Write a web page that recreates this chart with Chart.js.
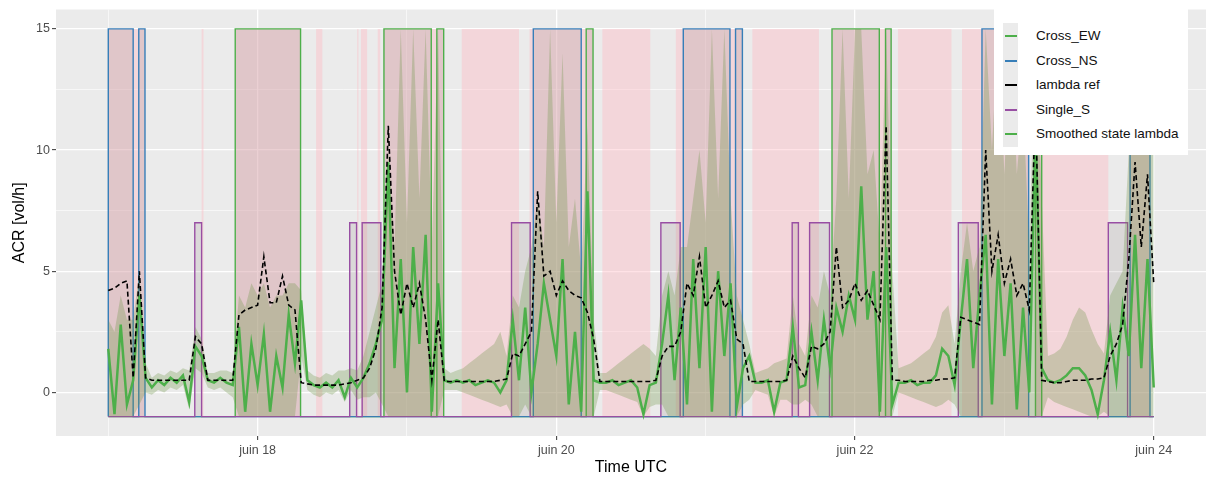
<!DOCTYPE html>
<html lang="fr">
<head>
    <meta charset="UTF-8">
    <title>ACR</title>
    <style>
        body { margin: 0; background: #fff; font-family: "Liberation Sans", Arial, sans-serif; }
        #wrap { position: relative; width: 1206px; height: 477px; }
        #legend { position: absolute; left: 994px; top: 8px; width: 194px; height: 147px; background: #fff; }
        #legend .keys { position: absolute; left: 9px; top: 15px; width: 15px; height: 124px; background: #ebebeb; }
        #legend .item { position: absolute; left: 0; height: 20px; width: 194px; }
        #legend .line { position: absolute; left: 11px; top: 9px; width: 12px; height: 2px; }
        #legend .txt { position: absolute; left: 42px; top: 2px; font-size: 13.5px; color: #111; white-space: nowrap; }
    </style>
</head>
<body>
<div id="wrap">
    <canvas id="acrChart" width="1206" height="477"></canvas>
    <div id="legend"><div class="keys"></div></div>
</div>
<script src="https://cdn.jsdelivr.net/npm/chart.js"></script>
<script>
// hours since 17 June 00:00 UTC
const hours = Array.from({length: 169}, (_, i) => i);

// smoothed state lambda
const smoothed = [
    1.8, -0.9, 2.8, -0.5, 0.5, 4.0, 0.6, 0.2, 0.5, 0.3,
    0.6, 0.4, 0.7, -0.4, 1.9, 1.5, 0.5, 0.4, 0.6, 0.4,
    0.3, 2.7, -0.8, 2.0, 0.3, 2.4, -0.8, 1.5, 0.2, 3.2,
    1.2, 3.8, 0.5, 0.3, 0.2, 0.4, 0.2, 0.5, -0.2, 0.6,
    0.2, 0.6, 1.2, 2.0, 3.0, 9.5, 1.0, 5.5, 0.0, 6.0,
    2.0, 6.5, -0.8, 4.5, 0.5, 0.4, 0.5, 0.4, 0.5, 0.3,
    0.4, 0.5, 0.4, 0.0, 0.5, 3.0, 0.5, 3.5, 0.0, 2.0,
    4.5, 3.0, 1.5, 5.5, -0.5, 2.5, -0.8, 8.3, 0.5, 0.4,
    0.4, 0.5, 0.3, 0.4, 0.5, 0.2, -0.9, 0.3, 0.4, 2.0,
    4.0, 0.5, 3.5, -0.5, 5.5, 1.0, 6.0, -0.8, 5.0, 1.5,
    4.5, -0.6, 1.0, 1.5, 0.4, 0.4, 0.5, -0.8, 0.4, 0.5,
    2.7, 0.2, 0.3, 2.5, 0.5, 3.0, 1.0, 3.5, 2.5, 4.0,
    3.0, 8.5, 3.0, 5.0, -0.8, 6.0, -0.5, 0.4, 0.4, 0.5,
    0.3, 0.4, 0.4, 0.7, 1.8, 1.5, 0.3, 3.0, 5.5, 1.0,
    4.0, 6.5, -0.5, 5.5, 1.5, 4.5, -0.7, 3.5, 0.0, 11.0,
    1.0, 0.5, 0.4, 0.5, 0.7, 1.0, 1.0, 0.7, 0.1, -0.9,
    0.5, 2.5, 0.5, 3.5, 1.5, 6.5, 1.0, 5.5, 0.2
];
// confidence band of the smoothed state
const bandLow = [
    -1, -1, -1, -1, -1, -0.5, 0, -0.1, 0.1, 0,
    0.2, 0.1, 0.3, -0.7, 1.0, 0.8, 0.2, 0.1, 0.2, 0,
    -0.2, -1, -1, -1, -1, -1, -1, -1, -1, -1,
    -1, 1.5, 0.1, -0.1, -0.2, 0, -0.1, 0.1, -0.4, 0.1,
    -0.3, -0.2, -0.2, 0, -0.5, -1, -1, -1, -1, -1,
    -1, -1, -1, -1, 0.1, 0.1, 0.1, 0, -0.1, -0.2,
    -0.3, -0.4, -0.5, -0.6, -0.5, -1, -1, -0.5, -1, -1,
    -1, -1, -1, -1, -1, -1, -1, -1, -1, 0.1,
    0.1, 0, -0.1, -0.2, -0.3, -0.4, -1, -0.6, -0.5, -0.5,
    -1, -1, -1, -1, -1, -1, -1, -1, -1, -1,
    -1, -1, -0.5, -0.3, 0.1, 0, -0.1, -1, -0.3, -0.3,
    -0.5, -0.5, -0.3, -0.5, -1, -1, -1, -1, -1, -1,
    -1, -1, -1, -1, -1, -1, -1, 0, -0.1, -0.2,
    -0.3, -0.4, -0.5, -0.6, -0.5, -0.3, -0.5, -1, -1, -1,
    -1, -1, -1, -1, -1, -1, -1, -1, -1, -1,
    -1, -0.2, -0.4, -0.5, -0.6, -0.7, -0.8, -0.9, -1, -1,
    -0.8, -1, -1, -1, -1, -1, -1, -1, -1
];
const bandHigh = [
    3, 2.5, 4, 3, 3, 5, 1.2, 0.6, 0.8, 0.7,
    0.9, 0.8, 1.0, 0.9, 2.7, 2.2, 0.8, 0.8, 0.9, 0.9,
    0.8, 4, 3.5, 4.5, 4, 4.5, 3.5, 4, 4, 4.5,
    4.5, 4.2, 0.9, 0.7, 0.6, 0.8, 0.7, 0.9, 0.9, 1.0,
    0.9, 1.5, 2.5, 3.5, 4.5, 10, 6, 15, 7, 15,
    8, 15, 6, 15, 1.0, 0.8, 0.9, 1.0, 1.2, 1.4,
    1.6, 1.8, 2.0, 2.5, 1.5, 4.0, 3.5, 5, 6, 8,
    6, 15, 7, 14, 6, 8, 5, 11, 3, 0.8,
    0.8, 1.0, 1.2, 1.4, 1.6, 1.8, 2.0, 1.8, 1.5, 4.0,
    5, 4, 6, 6, 8, 10, 7, 15, 8, 15,
    8, 4, 3, 2.0, 0.8, 0.9, 1.0, 1.2, 1.3, 1.4,
    4, 2, 1.5, 4, 3.5, 5, 4, 8, 15, 8,
    15, 15, 9, 10, 6, 15, 5, 1.0, 1.1, 1.2,
    1.4, 1.6, 1.8, 2.3, 3.3, 3.6, 2.0, 5, 7, 5,
    6, 15, 10, 15, 9, 15, 9, 12, 6, 15,
    8, 1.5, 1.6, 1.8, 2.3, 3.0, 3.5, 3.3, 2.6, 2.0,
    1.6, 4, 4.5, 5, 10, 15, 12, 15, 10
];
// lambda ref
const lambdaRef = [
    4.2, 4.3, 4.5, 4.6, 0.6, 5.0, 0.6, 0.5, 0.5, 0.5,
    0.5, 0.5, 0.5, 0.5, 2.3, 2.0, 0.5, 0.5, 0.5, 0.5,
    0.5, 3.2, 3.4, 3.5, 3.6, 5.6, 3.7, 3.7, 4.8, 3.6,
    3.4, 0.4, 0.35, 0.3, 0.3, 0.3, 0.3, 0.3, 0.35, 0.4,
    0.5, 0.6, 1.0, 1.8, 3.5, 11.0, 5.0, 3.2, 4.5, 3.5,
    4.5, 3.0, 0.5, 3.0, 0.45, 0.45, 0.45, 0.45, 0.45, 0.45,
    0.45, 0.45, 0.45, 0.5, 0.55, 1.6, 1.5, 2.0, 2.5, 8.3,
    4.8, 5.0, 4.0, 4.6, 4.2, 4.0, 3.9, 3.3, 2.2, 0.45,
    0.45, 0.45, 0.45, 0.45, 0.45, 0.45, 0.45, 0.45, 0.5, 1.5,
    1.9, 1.9, 2.5, 4.5, 4.0, 5.6, 3.5, 4.0, 4.6, 3.5,
    3.8, 2.2, 2.0, 0.45, 0.45, 0.45, 0.45, 0.45, 0.45, 0.5,
    1.5, 1.0, 0.6, 1.9, 1.8, 2.0, 2.5, 6.0, 3.5, 3.8,
    4.5, 3.8, 4.2, 3.6, 3.0, 11.0, 0.5, 0.5, 0.45, 0.45,
    0.45, 0.45, 0.5, 0.5, 0.55, 0.55, 0.6, 3.1, 3.0, 2.9,
    2.8, 10.0, 5.0, 6.5, 4.5, 5.5, 4.0, 4.5, 3.4, 12.0,
    0.5, 0.45, 0.4, 0.4, 0.45, 0.5, 0.5, 0.5, 0.55, 0.55,
    0.6, 1.5, 2.0, 2.8, 5.5, 9.5, 6.0, 9.0, 4.5
];

// state periods [start, end] in hours
const crossEW = [[20.4, 30.9], [44.3, 51.9], [52.8, 53.9], [76.8, 77.9], [116.3, 123.9], [124.9, 125.8], [149.0, 150.0]];
const crossNS = [[0, 4.0], [4.9, 5.9], [68.3, 76.0], [92.4, 99.9], [100.8, 101.9], [140.4, 147.9], [164.2, 167.4]];
const singleS = [[13.9, 15.0], [38.8, 39.9], [40.8, 43.8], [64.8, 67.8], [88.8, 91.9], [109.9, 110.9], [112.7, 115.9], [136.6, 139.8], [160.7, 163.8]];
const pinkSpans = [[0, 5.9], [15.0, 15.3], [20.4, 30.9], [33.4, 34.4], [40.0, 40.2], [40.6, 41.6], [43.3, 43.7],
    [44.3, 53.9], [56.8, 66.0], [67.7, 77.9], [79.4, 87.1], [91.2, 102.0], [103.5, 114.2], [116.3, 125.9],
    [126.9, 135.5], [137.2, 147.9], [149.0, 160.7], [164.0, 167.4]];
const stateOff = -1;
const crossOn = 15;
const singleOn = 7;

const xTickValues = [24, 72, 120, 168];
const xTickLabels = ['juin 18', 'juin 20', 'juin 22', 'juin 24'];
const xGrid = [0, 24, 48, 72, 96, 120, 144, 168];
const yTickValues = [0, 5, 10, 15];
const yTickLabels = ['0', '5', '10', '15'];
const yGrid = [0, 2.5, 5, 7.5, 10, 12.5, 15];

const legendLabels = ['Cross_EW', 'Cross_NS', 'lambda ref', 'Single_S', 'Smoothed state lambda'];
const legendColors = ['#4DAF4A', '#377EB8', '#000000', '#984EA3', '#4DAF4A'];

function stepPoints(spans, on) {
    const pts = [{x: 0, y: stateOff}];
    spans.forEach(([a, b]) => {
        pts.push({x: a, y: stateOff}, {x: a, y: on}, {x: b, y: on}, {x: b, y: stateOff});
    });
    pts.push({x: 168, y: stateOff});
    return pts;
}
const series = arr => hours.map((h, i) => ({x: h, y: arr[i]}));

const panelBg = {
    id: 'panelBg',
    beforeDraw(chart) {
        const {ctx, chartArea: a} = chart;
        ctx.save();
        ctx.fillStyle = '#EBEBEB';
        ctx.fillRect(a.left, a.top, a.right - a.left, a.bottom - a.top);
        ctx.restore();
    }
};

const stateFill = 'rgba(120,105,105,0.15)';
const font = { family: '"Liberation Sans", Arial', size: 12.5 };

new Chart(document.getElementById('acrChart'), {
    type: 'line',
    data: {
        datasets: [
            { label: 'lambda ref', data: series(lambdaRef), borderColor: '#000', borderWidth: 1.6, borderDash: [5, 3], order: 0 },
            { label: 'Smoothed state lambda', data: series(smoothed), borderColor: '#4DAF4A', borderWidth: 2.5, order: 1 },
            { label: 'band low', data: series(bandLow), borderWidth: 0, borderColor: 'transparent', order: 2 },
            { label: 'band high', data: series(bandHigh), borderWidth: 0, borderColor: 'transparent', fill: '-1', backgroundColor: 'rgba(110,150,70,0.3)', order: 3 },
            { label: 'Single_S', data: stepPoints(singleS, singleOn), borderColor: '#984EA3', borderWidth: 1.4, fill: {value: stateOff}, backgroundColor: stateFill, order: 4 },
            { label: 'Cross_NS', data: stepPoints(crossNS, crossOn), borderColor: '#377EB8', borderWidth: 1.4, fill: {value: stateOff}, backgroundColor: stateFill, order: 5 },
            { label: 'Cross_EW', data: stepPoints(crossEW, crossOn), borderColor: '#4DAF4A', borderWidth: 1.4, fill: {value: stateOff}, backgroundColor: stateFill, order: 6 },
            { label: 'pink', data: stepPoints(pinkSpans, crossOn), borderWidth: 0, borderColor: 'transparent', fill: {value: stateOff}, backgroundColor: 'rgba(255,182,193,0.4)', order: 7 }
        ]
    },
    options: {
        responsive: false,
        animation: false,
        devicePixelRatio: 1,
        layout: { padding: { top: 9, right: 0, left: 0, bottom: 0 } },
        elements: { point: { radius: 0 }, line: { tension: 0 } },
        plugins: { legend: { display: false }, tooltip: { enabled: false } },
        scales: {
            x: {
                type: 'linear',
                min: -8.4,
                max: 176.4,
                afterBuildTicks: s => { s.ticks = xGrid.map(v => ({value: v})); },
                afterFit: s => { s.height = 41; },
                border: { display: false },
                grid: {
                    color: '#fff',
                    lineWidth: c => xTickValues.includes(c.tick.value) ? 1.3 : 0.6,
                    tickColor: c => xTickValues.includes(c.tick.value) ? '#333' : 'transparent',
                    tickLength: 4,
                    tickWidth: 1
                },
                ticks: {
                    autoSkip: false,
                    maxRotation: 0,
                    padding: 3,
                    color: '#4D4D4D',
                    font: font,
                    callback: v => { const i = xTickValues.indexOf(v); return i >= 0 ? xTickLabels[i] : ''; }
                },
                title: { display: true, text: 'Time UTC', color: '#000', font: { family: '"Liberation Sans", Arial', size: 16 }, padding: { top: 0, bottom: 0 } }
            },
            y: {
                min: -1.8,
                max: 15.8,
                afterBuildTicks: s => { s.ticks = yGrid.map(v => ({value: v})); },
                afterFit: s => { s.width = 56; },
                border: { display: false },
                grid: {
                    color: '#fff',
                    lineWidth: c => yTickValues.includes(c.tick.value) ? 1.3 : 0.6,
                    tickColor: c => yTickValues.includes(c.tick.value) ? '#333' : 'transparent',
                    tickLength: 4,
                    tickWidth: 1
                },
                ticks: {
                    padding: 2,
                    color: '#4D4D4D',
                    font: font,
                    callback: v => { const i = yTickValues.indexOf(v); return i >= 0 ? yTickLabels[i] : ''; }
                },
                title: { display: true, text: 'ACR [vol/h]', color: '#000', font: { family: '"Liberation Sans", Arial', size: 16 }, padding: { top: 10, bottom: 0 } }
            }
        }
    },
    plugins: [panelBg]
});

// legend box
const legend = document.getElementById('legend');
legendLabels.forEach((lab, i) => {
    const item = document.createElement('div');
    item.className = 'item';
    item.style.top = (18 + i * 24.5) + 'px';
    item.innerHTML = `<div class="line" style="background:${legendColors[i]}"></div><div class="txt">${lab}</div>`;
    legend.appendChild(item);
});
</script>
</body>
</html>
